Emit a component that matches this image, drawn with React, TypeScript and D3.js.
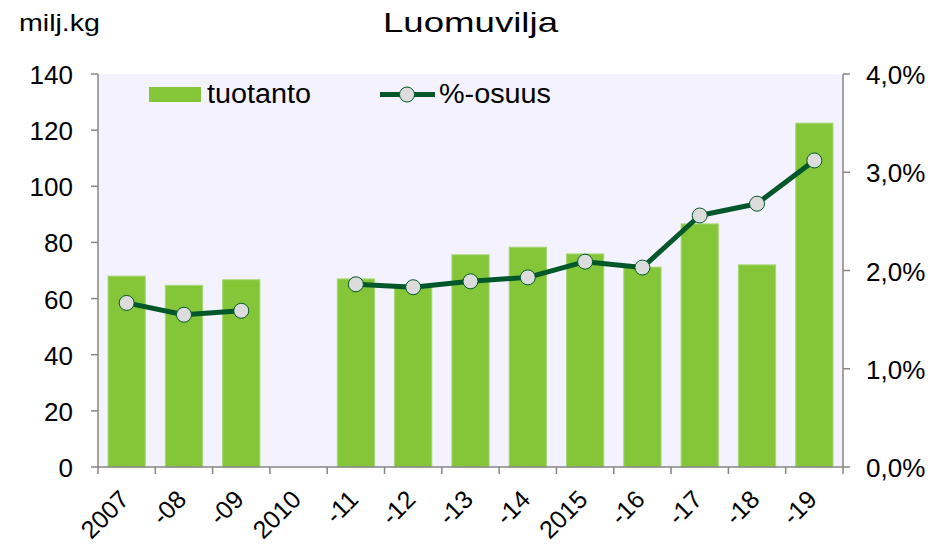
import React from "react";
import * as d3 from "d3";

const categories = ["2007", "-08", "-09", "2010", "-11", "-12", "-13", "-14", "2015", "-16", "-17", "-18", "-19"];
const production: (number | null)[] = [68, 64.7, 66.7, null, 67, 65, 75.6, 78.3, 75.9, 71.2, 86.6, 72, 122.5];
const share: (number | null)[] = [1.67, 1.55, 1.59, null, 1.86, 1.83, 1.89, 1.93, 2.09, 2.03, 2.56, 2.68, 3.12];
const leftTicks = [0, 20, 40, 60, 80, 100, 120, 140];
const rightTicks = [0, 1, 2, 3, 4];

const W = 941, H = 544;
const M = { left: 98, right: 843, top: 74, bottom: 467 };
const FONT = "Liberation Sans, Arial, sans-serif";

export default function App() {
  const x = d3.scaleBand<string>().domain(categories).range([M.left, M.right]).paddingInner(0.35).paddingOuter(0.175);
  const xb = d3.scaleBand<string>().domain(categories).range([M.left, M.right]);
  const yL = d3.scaleLinear().domain([0, 140]).range([M.bottom, M.top]);
  const yR = d3.scaleLinear().domain([0, 4]).range([M.bottom, M.top]);
  const line = d3.line<number | null>()
    .defined((d) => d !== null)
    .x((_, i) => (xb(categories[i]) as number) + xb.bandwidth() / 2)
    .y((d) => yR(d as number));
  const axisColor = "#868686";
  return (
    <svg width={W} height={H} style={{ position: "absolute", left: 0, top: 0, background: "#fff" }} fontFamily={FONT}>
      <rect x={M.left} y={M.top} width={M.right - M.left} height={M.bottom - M.top} fill="#F4F2FE" />
      <text x={383} y={32} fontSize={28} textLength={175} lengthAdjust="spacingAndGlyphs" fill="#000">Luomuvilja</text>
      <text x={19} y={31} fontSize={24} textLength={81} lengthAdjust="spacingAndGlyphs" fill="#000">milj.kg</text>
      {production.map((v, i) => v === null ? null : (
        <rect key={i} x={x(categories[i])} y={yL(v)} width={x.bandwidth()} height={yL(0) - yL(v)}
          fill="#84C637" stroke="#A6D876" strokeWidth={1} />
      ))}
      {/* left axis */}
      <line x1={M.left} x2={M.left} y1={M.top} y2={M.bottom} stroke={axisColor} strokeWidth={1.5} />
      {leftTicks.map((t) => (
        <g key={t}>
          <line x1={M.left - 7} x2={M.left} y1={yL(t)} y2={yL(t)} stroke={axisColor} strokeWidth={1.5} />
          <text x={73} y={yL(t) + 10} fontSize={26} textAnchor="end" fill="#000">{t}</text>
        </g>
      ))}
      {/* right axis */}
      <line x1={M.right} x2={M.right} y1={M.top} y2={M.bottom} stroke={axisColor} strokeWidth={1.5} />
      {rightTicks.map((t) => (
        <g key={t}>
          <line x1={M.right} x2={M.right + 7} y1={yR(t)} y2={yR(t)} stroke={axisColor} strokeWidth={1.5} />
          <text x={866} y={yR(t) + 10} fontSize={26} textAnchor="start" fill="#000">{t.toFixed(1).replace(".", ",")}%</text>
        </g>
      ))}
      {/* bottom axis */}
      <line x1={M.left} x2={M.right} y1={M.bottom} y2={M.bottom} stroke={axisColor} strokeWidth={1.5} />
      {categories.concat([""]).map((c, i) => {
        const px = M.left + i * xb.step();
        return <line key={i} x1={px} x2={px} y1={M.bottom} y2={M.bottom + 7} stroke={axisColor} strokeWidth={1.5} />;
      })}
      {categories.map((c) => {
        const cx = (xb(c) as number) + xb.bandwidth() / 2 + 4;
        const cy = 501;
        return (
          <text key={c} x={cx} y={cy} fontSize={25} textAnchor="end" transform={`rotate(-45, ${cx}, ${cy})`} fill="#000">{c}</text>
        );
      })}
      {/* line */}
      <path d={line(share) || ""} fill="none" stroke="#00582A" strokeWidth={5} strokeLinejoin="round" />
      {share.map((v, i) => v === null ? null : (
        <circle key={i} cx={(xb(categories[i]) as number) + xb.bandwidth() / 2} cy={yR(v)} r={7.5}
          fill="#DCDCDC" stroke="#00582A" strokeWidth={1} />
      ))}
      {/* legend */}
      <rect x={149} y={87} width={52} height={15} fill="#84C637" />
      <text x={207} y={103} fontSize={27} textLength={104} lengthAdjust="spacingAndGlyphs" fill="#000">tuotanto</text>
      <line x1={380} x2={435} y1={94.5} y2={94.5} stroke="#00582A" strokeWidth={5} />
      <circle cx={407} cy={94.5} r={7.5} fill="#DCDCDC" stroke="#00582A" strokeWidth={1} />
      <text x={439} y={103} fontSize={27} textLength={112} lengthAdjust="spacingAndGlyphs" fill="#000">%-osuus</text>
    </svg>
  );
}
